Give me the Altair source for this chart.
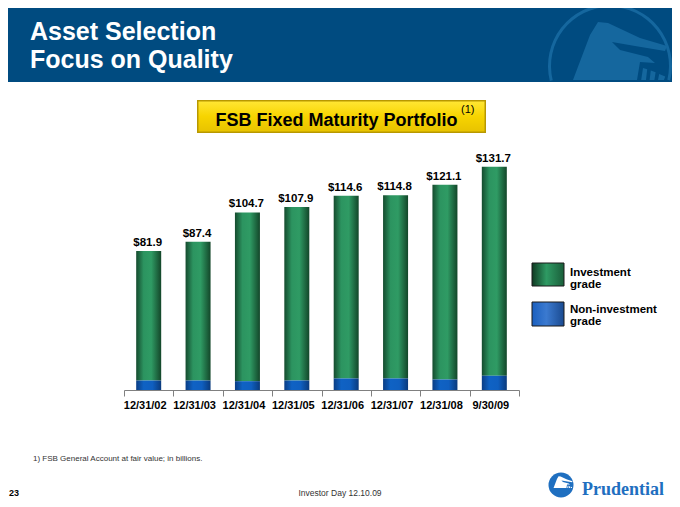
import altair as alt
import pandas as pd

# ---- data ----
dates = ["12/31/02", "12/31/03", "12/31/04", "12/31/05", "12/31/06", "12/31/07", "12/31/08", "9/30/09"]
total = [81.9, 87.4, 104.7, 107.9, 114.6, 114.8, 121.1, 131.7]
non_inv = [5.6, 5.6, 5.2, 5.6, 6.8, 6.8, 6.2, 8.4]

df = pd.DataFrame({
    "date": dates,
    "total": total,
    "non": non_inv,
    "label": ["$" + f"{v:.1f}" for v in total],
})

# ---- layout (screen pixels -> plot coordinates) ----
OX, OY = 124.0, 152.6
W, H = 395, 237.4
def X(px):
    return px - OX
def Y(py):
    return py - OY

FONT = "Liberation Sans"
one = alt.Data(values=[{}])

def grad_h(stops):
    return {"gradient": "linear", "x1": 0, "x2": 1, "y1": 0, "y2": 0,
            "stops": [{"offset": o, "color": c} for o, c in stops]}
def grad_v(stops):
    return {"gradient": "linear", "x1": 0, "x2": 0, "y1": 0, "y2": 1,
            "stops": [{"offset": o, "color": c} for o, c in stops]}

green = grad_h([(0, "#154b2e"), (0.3, "#2c9460"), (0.6, "#2f9b64"), (1, "#134629")])
blue = grad_h([(0, "#0a3d84"), (0.3, "#0f62c4"), (0.65, "#0f5fc0"), (1, "#0a3a7c")])

def rect(x1, y1, x2, y2, **kw):
    return alt.Chart(one).mark_rect(**kw).encode(
        x=alt.value(X(x1)), x2=alt.value(X(x2)),
        y=alt.value(Y(y1)), y2=alt.value(Y(y2)))

def text(s, x, y, **kw):
    base = dict(font=FONT, baseline="alphabetic", align="left")
    base.update(kw)
    return alt.Chart(one).mark_text(text=s, **base).encode(
        x=alt.value(X(x)), y=alt.value(Y(y)))

# header
header = rect(0, 0, 680, 82, fill="#004b80")
ring = alt.Chart(one).mark_arc(radius=62, radius2=59, theta=4.47, theta2=8.09,
                               color="#15679e").encode(
    x=alt.value(X(610)), y=alt.value(Y(66)))
rock_path = ("M -0.617 0.5 L -0.333 -0.25 L -0.2 -0.467 L -0.033 -0.45 L 0.5 -0.2 "
             "L 0.95 -0.067 L 0.917 0.017 L 0.417 -0.067 L 0.033 -0.133 L 0.167 0 "
             "L 0.633 0.117 L 0.75 0.217 L 0.5 0.2 L 0.45 0.5 Z "
             "M 0.55 0.3 L 0.62 0.32 L 0.6 0.5 L 0.52 0.5 Z "
             "M 0.68 0.34 L 0.76 0.37 L 0.74 0.5 L 0.66 0.5 Z "
             "M 0.82 0.4 L 0.92 0.44 L 0.9 0.5 L 0.8 0.5 Z")
rock = alt.Chart(one).mark_point(shape=rock_path, size=14400, filled=True,
                                 opacity=1, color="#15679e", strokeWidth=0).encode(
    x=alt.value(X(610)), y=alt.value(Y(50)))
t1 = text("Asset Selection", 30, 39.5, fontSize=25, fontWeight="bold", color="white")
t2 = text("Focus on Quality", 30, 68, fontSize=25, fontWeight="bold", color="white")

# yellow title box
ybox_o = rect(197, 100, 486, 133, fill="#b89800")
ybox_i = rect(198.5, 101.5, 484.5, 131.5,
              fill=grad_v([(0, "#ffe633"), (0.5, "#f7d400"), (1, "#e8c300")]))
ytitle = text("FSB Fixed Maturity Portfolio", 336.5, 126, fontSize=18,
              fontWeight="bold", color="black", align="center")
ysup = text("(1)", 461, 113, fontSize=11, color="black")

# bars
x_enc = alt.X("date:N", sort=dates,
              scale=alt.Scale(paddingInner=0, paddingOuter=0),
              axis=alt.Axis(title=None, labelAngle=0, tickBand="extent",
                            domainColor="#808080", tickColor="#808080",
                            tickSize=6, labelFont=FONT, labelFontWeight="bold",
                            labelFontSize=11, labelColor="black", labelPadding=3,
                            labelOffset=-4, grid=False))
y_scale = alt.Scale(domain=[0, 140], nice=False, zero=True)

base = alt.Chart(df)
inv_bars = base.mark_bar(size=25, color=green).encode(
    x=x_enc,
    y=alt.Y("total:Q", scale=y_scale, axis=None),
    y2="non:Q")
non_bars = base.mark_bar(size=25, color=blue).encode(
    x=alt.X("date:N", sort=dates),
    y=alt.Y("non:Q"))
labels = base.mark_text(font=FONT, fontSize=11.5, fontWeight="bold", color="black",
                        baseline="alphabetic", dy=-5, dx=-1).encode(
    x=alt.X("date:N", sort=dates),
    y=alt.Y("total:Q"),
    text="label:N")

# legend
leg_g = rect(532, 263, 564, 286, stroke="#1a1a1a", strokeWidth=1,
             fill=grad_h([(0, "#0f3a22"), (0.45, "#2e9a63"), (1, "#1a5e3a")]))
leg_b = rect(532, 302, 564, 326, stroke="#1a1a1a", strokeWidth=1,
             fill=grad_h([(0, "#1a5fbf"), (0.45, "#3b7ad0"), (1, "#1a4a90")]))
lt1 = text("Investment", 570, 275.5, fontSize=11.5, fontWeight="bold", color="black")
lt2 = text("grade", 570, 287.5, fontSize=11.5, fontWeight="bold", color="black")
lt3 = text("Non-investment", 570, 313.3, fontSize=11.5, fontWeight="bold", color="black")
lt4 = text("grade", 570, 325.3, fontSize=11.5, fontWeight="bold", color="black")

# footer
foot = text("1)  FSB General Account at fair value; in billions.", 33, 461,
            fontSize=8, color="#333333")
page = text("23", 9, 496, fontSize=9, fontWeight="bold", color="black")
inv_day = text("Investor Day 12.10.09", 340, 496, fontSize=8.5, color="#333333",
               align="center")
logo_c = alt.Chart(one).mark_point(shape="circle", size=625, filled=True, opacity=1,
                                   color="#1f6fc0", strokeWidth=0).encode(
    x=alt.value(X(561)), y=alt.value(Y(485)))
logo_r = alt.Chart(one).mark_point(shape=rock_path, size=585, filled=True, opacity=1,
                                   color="white", strokeWidth=0).encode(
    x=alt.value(X(561)), y=alt.value(Y(482)))
pru = text("Prudential", 582, 495, fontSize=18, fontWeight="bold",
           font="Liberation Serif", color="#1f6fc0")

chart = alt.layer(
    header, ring, rock, t1, t2,
    ybox_o, ybox_i, ytitle, ysup,
    inv_bars, non_bars, labels,
    leg_g, leg_b, lt1, lt2, lt3, lt4,
    foot, page, inv_day, logo_c, logo_r, pru,
).properties(
    width=W, height=H,
    background="white",
    autosize=alt.AutoSizeParams(type="none"),
    padding={"left": 116, "top": 144.6, "right": 153, "bottom": 109},
).configure_view(strokeWidth=0, stroke="transparent")

chart.save("out.html", embed_options={"renderer": "svg", "actions": False})
